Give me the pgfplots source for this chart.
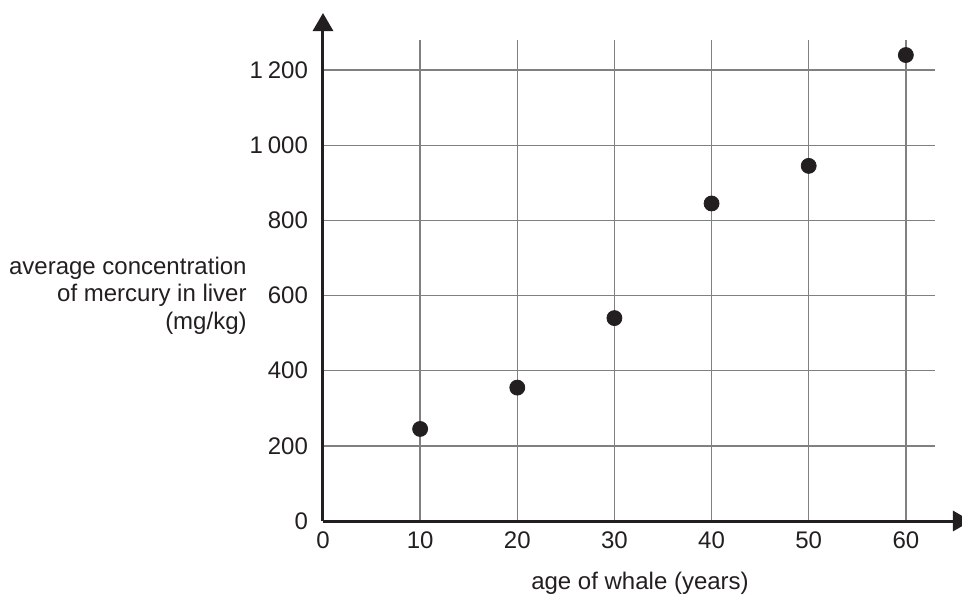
\documentclass[border=0pt]{standalone}
\usepackage{pgfplots}
\pgfplotsset{compat=1.18}
\usepackage{fontspec}
\setmainfont{Liberation Sans}
\usetikzlibrary{arrows.meta}
\definecolor{ink}{HTML}{231F20}
\definecolor{gridgray}{HTML}{808080}

\begin{document}
\begin{tikzpicture}
\begin{axis}[
    scale only axis,
    width=306pt, height=240.5pt,
    xmin=0, xmax=63, ymin=0, ymax=1280,
    axis lines=left,
    x axis line style={ink, line width=1.5pt, -{Triangle[width=10pt,length=9pt]}, shorten >=-18pt},
    y axis line style={ink, line width=1.5pt, -{Triangle[width=10pt,length=9pt]}, shorten >=-13.5pt},
    xtick={10,20,...,60}, ytick={200,400,...,1200},
    extra x ticks={0}, extra y ticks={0},
    extra tick style={grid=none},
    major tick length=0pt,
    grid=major,
    major grid style={gridgray, line width=0.65pt},
    /pgf/number format/assume math mode=true,
    /pgf/number format/1000 sep={\hspace{0.2em}},
    tick label style={font=\fontsize{12}{14}\selectfont, text=ink},
    x tick label style={yshift=-2pt},
    y tick label style={xshift=-4pt},
    xlabel={age of whale (years)},
    ylabel={average concentration\\of mercury in liver\\(mg/kg)},
    every axis x label/.style={at={(axis description cs:0.518,0)}, anchor=center,
        yshift=-31pt, font=\fontsize{12}{14}\selectfont, text=ink},
    every axis y label/.style={at={(axis description cs:0,0.46875)}, anchor=east,
        xshift=-38pt, inner sep=0pt, align=right,
        font=\fontsize{12}{13.75}\selectfont, text=ink},
]
\addplot[only marks, mark=*, mark size=3.75pt, ink] coordinates {
    (10, 245)
    (20, 355)
    (30, 540)
    (40, 845)
    (50, 945)
    (60, 1240)
};
\end{axis}
\pgfresetboundingbox
\path ([xshift=-161.5pt, yshift=-40pt]current axis.south west)
    rectangle ([xshift=13.5pt, yshift=20pt]current axis.north east);
\end{tikzpicture}
\end{document}
